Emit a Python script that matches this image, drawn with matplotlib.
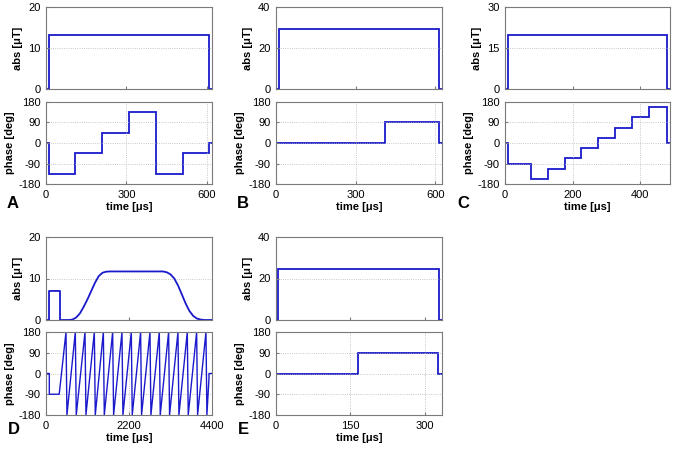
import numpy as np
import matplotlib
matplotlib.use("Agg")
import matplotlib.pyplot as plt

plt.rcParams["font.family"] = ["Liberation Sans", "DejaVu Sans"]
plt.rcParams["font.size"] = 8
plt.rcParams["axes.unicode_minus"] = False

BLUE = "#1a1acc"
SPINE = "#7a7a7a"

# ---- panel A: abs / phase as piecewise-constant levels over edges (us)
a_abs_edges = [0, 10, 610, 620]
a_abs_levels = [0, 13.1, 0]
a_ph_edges = [0, 10, 110, 210, 310, 410, 510, 610, 620]
a_ph_levels = [0, -135, -45, 45, 135, -135, -45, 0]

# ---- panel B
b_abs_edges = [0, 10, 612, 625]
b_abs_levels = [0, 29.5, 0]
b_ph_edges = [0, 410, 612, 625]
b_ph_levels = [0, 90, 0]

# ---- panel C
c_abs_edges = [0, 10, 478, 488]
c_abs_levels = [0, 19.7, 0]
c_ph_edges = [0, 10, 76, 126, 176, 226, 276, 326, 376, 426, 478, 488]
c_ph_levels = [0, -90, -157.5, -112.5, -67.5, -22.5, 22.5, 67.5, 112.5, 157.5, 0]

# ---- panel D: abs (us, uT)
d_abs_t = [0, 80, 80, 371, 371, 600, 700, 800, 900, 1000, 1100, 1200, 1300,
           1400, 1500, 1600, 1700, 3100, 3200, 3300, 3400, 3500, 3600, 3700,
           3800, 3900, 4000, 4100, 4200, 4400]
d_abs_v = [0, 0, 7.0, 7.0, 0, 0, 0.1, 0.6, 1.6, 3.2, 5.0, 7.0, 9.0,
           10.6, 11.4, 11.65, 11.7, 11.7, 11.5, 11.0, 10.0, 8.3, 6.2, 4.0,
           2.2, 1.0, 0.35, 0.1, 0, 0]
# phase: leading steps, then a wrapped ramp (times where it reaches +180)
d_ph_lead_t = [0, 88, 88, 350]
d_ph_lead_v = [0, 0, -90, -90]
d_peak_t = [530, 777, 1034, 1281, 1520, 1767, 2014, 2261, 2508, 2756,
            3003, 3250, 3498, 3745, 3993, 4240]
d_wrap_dt = 25
d_tail_t = [4320, 4400]
d_tail_v = [0, 0]

# ---- panel E
e_abs_edges = [0, 5, 328, 335]
e_abs_levels = [0, 24.4, 0]
e_ph_edges = [0, 166, 327, 335]
e_ph_levels = [0, 90, 0]

panels = {
    "A": dict(xlim=620, xticks=[0, 300, 600], ylim=20, yticks=[0, 10, 20]),
    "B": dict(xlim=625, xticks=[0, 300, 600], ylim=40, yticks=[0, 20, 40]),
    "C": dict(xlim=488, xticks=[0, 200, 400], ylim=30, yticks=[0, 15, 30]),
    "D": dict(xlim=4400, xticks=[0, 2200, 4400], ylim=20, yticks=[0, 10, 20]),
    "E": dict(xlim=335, xticks=[0, 150, 300], ylim=40, yticks=[0, 20, 40]),
}

W, H = 675, 451
# (left px, right px, top-axes top px, top-axes bottom px, phase top px, phase bottom px)
layout = {
    "A": (46, 212, 7, 89, 102, 184),
    "B": (276, 442, 7, 89, 102, 184),
    "C": (505, 670, 7, 89, 102, 184),
    "D": (46, 212, 237, 320, 332, 415),
    "E": (276, 442, 237, 320, 332, 415),
}
letter_pos = {"A": (7, 203), "B": (237, 203), "C": (457, 203),
              "D": (8, 430), "E": (238, 429)}


def px_rect(l, r, t, b):
    return [l / W, 1 - b / H, (r - l) / W, (b - t) / H]


def style(ax):
    for s in ax.spines.values():
        s.set_color(SPINE)
        s.set_linewidth(0.8)
    ax.tick_params(direction="in", length=2.5, color=SPINE, pad=4,
                   labelsize=8, labelcolor="black")
    ax.grid(True, linestyle=":", color="#b5b5b5", linewidth=0.6)


fig = plt.figure(figsize=(W / 100, H / 100), dpi=100)

for key, (l, r, t1, b1, t2, b2) in layout.items():
    p = panels[key]
    ax_abs = fig.add_axes(px_rect(l, r, t1, b1))
    ax_ph = fig.add_axes(px_rect(l, r, t2, b2))

    if key == "D":
        ax_abs.plot(d_abs_t, d_abs_v, color=BLUE, lw=1.3)
        pt, pv = list(d_ph_lead_t), list(d_ph_lead_v)
        for tp in d_peak_t:
            pt += [tp, tp + d_wrap_dt]
            pv += [180, -180]
        pt += d_tail_t[:1] + d_tail_t
        pv += [-20] + d_tail_v
        ax_ph.plot(pt, pv, color=BLUE, lw=1.0)
    else:
        g = globals()
        k = key.lower()
        ax_abs.stairs(g[f"{k}_abs_levels"], g[f"{k}_abs_edges"],
                      baseline=None, color=BLUE, lw=1.3)
        ax_ph.stairs(g[f"{k}_ph_levels"], g[f"{k}_ph_edges"],
                     baseline=None, color=BLUE, lw=1.3)

    for ax in (ax_abs, ax_ph):
        ax.set_xlim(0, p["xlim"])
        ax.set_xticks(p["xticks"])
        style(ax)

    ax_abs.set_ylim(0, p["ylim"])
    ax_abs.set_yticks(p["yticks"])
    ax_abs.tick_params(labelbottom=False)
    ax_abs.grid(False, axis="x")
    ax_abs.set_ylabel("abs [μT]", fontweight="bold", fontsize=8, labelpad=4)

    ax_ph.set_ylim(-180, 180)
    ax_ph.set_yticks([-180, -90, 0, 90, 180])
    ax_ph.set_ylabel("phase [deg]", fontweight="bold", fontsize=8, labelpad=2)
    ax_ph.set_xlabel("time [μs]", fontweight="bold", fontsize=8, labelpad=2)

    lx, ly = letter_pos[key]
    fig.text(lx / W, 1 - ly / H, key, fontsize=12, fontweight="bold",
             ha="left", va="center")

fig.savefig("out.png", dpi=100)
